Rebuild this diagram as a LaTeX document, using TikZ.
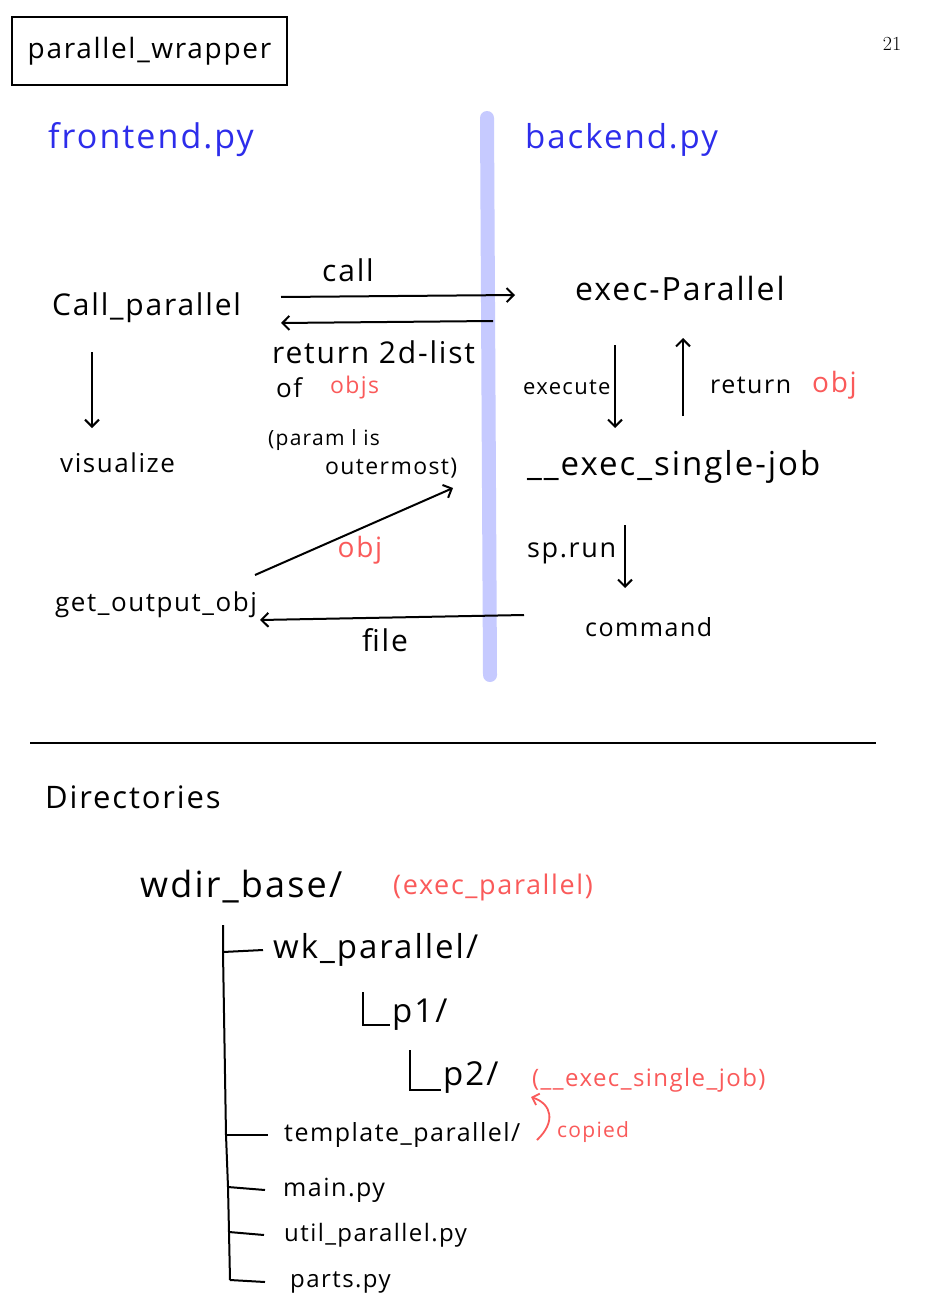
\documentclass[tikz,border=0pt]{standalone}
\usepackage{fontspec}
\setmainfont{Open Sans}[LetterSpace=6]
\newfontfamily\numfont{Latin Modern Roman}
\usetikzlibrary{arrows.meta}
\definecolor{bluetxt}{RGB}{45,45,235}
\definecolor{redtxt}{RGB}{250,90,90}
\definecolor{barcol}{RGB}{198,202,255}
\newcommand{\fs}[1]{\fontsize{#1}{#1}\selectfont}
\begin{document}
\begin{tikzpicture}[x=1pt,y=-1pt,
  lab/.style={inner sep=0pt, anchor=west, text=black},
  redlab/.style={lab, text=redtxt},
  bluelab/.style={lab, text=bluetxt},
  arr/.style={-{Straight Barb[length=7pt,width=14pt]}, line width=2pt},
  redarr/.style={-{Straight Barb[length=6pt,width=12pt]}, line width=1.8pt, draw=redtxt},
  tree/.style={line width=2pt}]
\useasboundingbox (0,0) rectangle (945,1308);
\fill[white] (0,0) rectangle (945,1308);

% title
\node[lab, anchor=center, draw, line width=2.2pt, minimum width=275pt, minimum height=68pt, font=\fs{28}] (title) at (149.5,51) {parallel\_wrapper};
\node[lab, anchor=center, font=\numfont\fs{20}] (page) at (892,44) {21};

% divider bar
\draw[barcol, line width=14pt, line cap=round] (487,118) -- (490,675);

\node[bluelab, font=\fs{34}] (fe) at (48,140) {frontend.py};
\node[bluelab, font=\fs{33}] (be) at (525,140) {backend.py};

% frontend
\node[lab, font=\fs{30}] (callp) at (52,308) {Call\_parallel};
\node[lab, font=\fs{26}] (vis) at (60,463) {visualize};
\node[lab, font=\fs{26}] (geto) at (55,605) {get\_output\_obj};

% backend
\node[lab, font=\fs{32}] (execp) at (575,288) {exec-Parallel};
\node[lab, font=\fs{33}] (single) at (527,467) {\_\_exec\_single-job};
\node[lab, font=\fs{25}] (cmd) at (585,627) {command};

% labels
\node[lab, anchor=center, font=\fs{30}] (lcall) at (348,270) {call};
\node[lab, font=\fs{30}] (lret) at (272,352) {return 2d-list};
\node[lab, font=\fs{26}] (lof) at (276,388) {of};
\node[redlab, font=\fs{23}] (lobjs) at (330,388) {objs};
\node[lab, font=\fs{21}] (lparam) at (268,440) {(param l is};
\node[lab, font=\fs{23}] (louter) at (325,468) {outermost)};
\node[lab, font=\fs{22}] (lexec) at (523,387) {execute};
\node[lab, font=\fs{25}] (lretobj) at (710,385) {return};
\node[redlab, font=\fs{28}] (lobj1) at (812,385) {obj};
\node[lab, font=\fs{27}] (lsp) at (527,553) {sp.run};
\node[lab, anchor=center, font=\fs{30}] (lfile) at (385,640) {file};
\node[redlab, anchor=center, font=\fs{28}] (lobj2) at (360,550) {obj};

% arrow endpoints
\coordinate (a1s) at (281,297); \coordinate (a1e) at (515,295);
\coordinate (a2s) at (493,321); \coordinate (a2e) at (281,323);
\coordinate (a3s) at (92,352);  \coordinate (a3e) at (92,428);
\coordinate (a4s) at (615,345); \coordinate (a4e) at (615,428);
\coordinate (a5s) at (683,416); \coordinate (a5e) at (683,338);
\coordinate (a6s) at (625,525); \coordinate (a6e) at (625,588);
\coordinate (a7s) at (524,615); \coordinate (a7e) at (260,620);
\coordinate (a8s) at (255,575); \coordinate (a8e) at (453,488);

\draw[arr] (a1s) -- (a1e);
\draw[arr] (a2s) -- (a2e);
\draw[arr] (a3s) -- (a3e);
\draw[arr] (a4s) -- (a4e);
\draw[arr] (a5s) -- (a5e);
\draw[arr] (a6s) -- (a6e);
\draw[arr] (a7s) -- (a7e);
\draw[arr] (a8s) -- (a8e);

% horizontal rule
\draw[line width=1.8pt] (30,743) -- (876,743);

% Directories
\node[lab, font=\fs{31}] (dirs) at (45,797) {Directories};
\node[lab, font=\fs{36}] (wdir) at (140,887) {wdir\_base/};
\node[redlab, font=\fs{27}] (wdirnote) at (393,887) {(exec\_parallel)};
\node[lab, font=\fs{33}] (wk) at (273,950) {wk\_parallel/};
\node[lab, font=\fs{33}] (p1) at (392,1015) {p1/};
\node[lab, font=\fs{33}] (p2) at (443,1078) {p2/};
\node[redlab, font=\fs{24}] (p2note) at (532,1080) {(\_\_exec\_single\_job)};
\node[lab, font=\fs{25}] (tmpl) at (284,1135) {template\_parallel/};
\node[redlab, font=\fs{21}] (copied) at (557,1132) {copied};
\node[lab, font=\fs{25}] (mainpy) at (283,1190) {main.py};
\node[lab, font=\fs{24}] (utilpy) at (284,1235) {util\_parallel.py};
\node[lab, font=\fs{24}] (partspy) at (290,1282) {parts.py};

% tree lines
\coordinate (t0) at (223,925);
\coordinate (t1) at (223,952);
\coordinate (t2) at (226,1135);
\coordinate (t3) at (228,1187);
\coordinate (t4) at (229,1232);
\coordinate (t5) at (230,1280);
\draw[tree] (t0) -- (t1) -- (t2) -- (t3) -- (t4) -- (t5);
\draw[tree] (t1) -- ([xshift=-10pt]wk.west);
\draw[tree] (t2) -- ([xshift=-16pt]tmpl.west);
\draw[tree] (t3) -- ([xshift=-18pt]mainpy.west);
\draw[tree] (t4) -- ([xshift=-20pt]utilpy.west);
\draw[tree] (t5) -- ([xshift=-25pt]partspy.west);
\draw[tree] (363,992) -- (363,1025) -- ([xshift=-2pt]p1.west |- 0,1025);
\draw[tree] (410,1050) -- (410,1090) -- ([xshift=-2pt]p2.west |- 0,1090);

% copied arrow
\draw[redarr] (537,1140) .. controls (556,1122) and (552,1104) .. (531,1097);
\end{tikzpicture}
\end{document}
